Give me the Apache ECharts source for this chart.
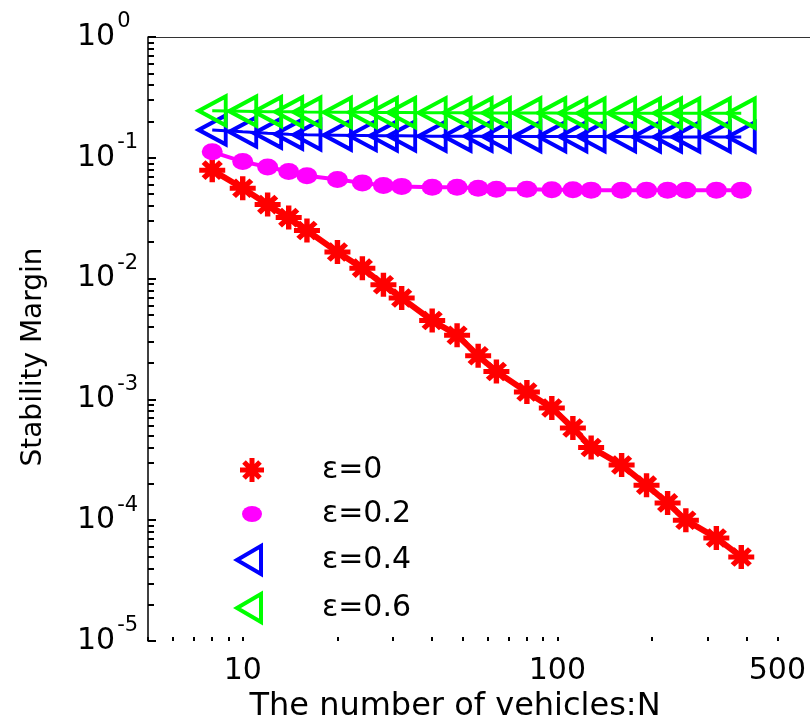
<!DOCTYPE html>
<html>
<head>
<meta charset="utf-8">
<script src="https://cdn.jsdelivr.net/npm/echarts@6/dist/echarts.min.js"></script>
<style>
  html, body { margin: 0; padding: 0; background: #fff; }
  #chart { width: 810px; height: 724px; }
</style>
</head>
<body>
<div id="chart"></div>
<script>
// number of vehicles
const N = [8, 10, 12, 14, 16, 20, 24, 28, 32, 40, 48, 56, 64, 80, 96, 112, 128, 160, 192, 224, 256, 320, 384];

// stability margin for each epsilon
const eps0 = [0.079, 0.056, 0.041, 0.032, 0.025, 0.0166, 0.0122, 0.0089, 0.0069, 0.0045, 0.0034, 0.0023,
    0.0017, 0.00115, 0.00085, 0.00058, 0.0004, 0.000286, 0.000195, 0.000139, 0.0001, 0.0000713, 0.0000496];
const eps02 = [0.112, 0.093, 0.084, 0.077, 0.071, 0.066, 0.062, 0.059, 0.058, 0.057, 0.057, 0.056,
    0.055, 0.055, 0.0545, 0.0545, 0.054, 0.054, 0.054, 0.054, 0.054, 0.054, 0.054];
const eps04 = [0.17, 0.164, 0.16, 0.157, 0.155, 0.154, 0.153, 0.152, 0.152, 0.151, 0.151, 0.151,
    0.15, 0.15, 0.15, 0.15, 0.15, 0.15, 0.149, 0.149, 0.149, 0.149, 0.149];
const eps06 = [0.245, 0.243, 0.241, 0.24, 0.239, 0.238, 0.238, 0.237, 0.237, 0.236, 0.236, 0.235,
    0.235, 0.235, 0.235, 0.234, 0.234, 0.234, 0.234, 0.234, 0.234, 0.234, 0.234];

const seriesNames = ['ε=0', 'ε=0.2', 'ε=0.4', 'ε=0.6'];

// axis ticks / labels
const xLabelValues = [10, 100, 500];
const xTickValues = [5, 6, 7, 8, 9, 10, 20, 30, 40, 50, 60, 70, 80, 90, 100, 200, 300, 400, 500];
const yMinorMultipliers = [2, 3, 4, 5, 6, 7, 8, 9];
const yDecades = [-5, -4, -3, -2, -1];

const xMin = 5, xMax = 635;
const yMin = 1e-5, yMax = 1;

const FONT = 'DejaVu Sans';

// asterisk with thick arms, like the matlab '*' marker
const starPath = 'path://M0,9.5H24V14.5H0Z M9.5,0H14.5V24H9.5Z M2.2,5.8L5.8,2.2L21.8,18.2L18.2,21.8Z M18.2,2.2L21.8,5.8L5.8,21.8L2.2,18.2Z';
const triPath = 'path://M0,15L26,0L26,30Z';
// legend icons padded into a 30x30 box so they keep their own size
const starIcon = 'path://M0,0M30,30M3,12.5H27V17.5H3Z M12.5,3H17.5V27H12.5Z M5.2,8.8L8.8,5.2L24.8,21.2L21.2,24.8Z M21.2,5.2L24.8,8.8L8.8,24.8L5.2,21.2Z';
const dotIcon = 'path://M0,0M30,30M5,15a10,8 0 1,0 20,0a10,8 0 1,0 -20,0Z';
const triIcon = 'path://M0,0M30,30M0,15L24,1L24,29Z';

const yMinorTicks = [];
yDecades.forEach((d) => {
    yMinorMultipliers.forEach((m) => yMinorTicks.push(Math.log10(m) + d));
});

const pairs = (ys) => N.map((n, i) => [n, ys[i]]);

const chart = echarts.init(document.getElementById('chart'), null, { renderer: 'canvas' });

const option = {
    animation: false,
    backgroundColor: '#ffffff',
    grid: { left: 148, top: 37, right: 0, bottom: 83, outerBoundsMode: 'none' },
    legend: {
        orient: 'vertical',
        left: 235,
        top: 455,
        padding: 0,
        itemWidth: 130,
        itemHeight: 30,
        itemGap: 14,
        selectedMode: false,
        textStyle: { fontFamily: FONT, fontSize: 30, color: '#000', lineHeight: 30 },
        data: [
            { name: seriesNames[0], icon: starIcon, itemStyle: { color: '#ff0000', borderWidth: 0 } },
            { name: seriesNames[1], icon: dotIcon, itemStyle: { color: '#ff00ff', borderWidth: 0 } },
            { name: seriesNames[2], icon: triIcon, itemStyle: { color: 'transparent', borderColor: '#0000ff', borderWidth: 4 } },
            { name: seriesNames[3], icon: triIcon, itemStyle: { color: 'transparent', borderColor: '#00ff00', borderWidth: 4 } },
        ],
    },
    xAxis: [
        {
            type: 'log',
            min: xMin,
            max: xMax,
            name: 'The number of vehicles:N',
            nameLocation: 'middle',
            nameGap: 50,
            nameTextStyle: { fontFamily: FONT, fontSize: 32, color: '#000', padding: [0, 48, 0, 0] },
            axisLine: { show: true, lineStyle: { color: '#333', width: 1 } },
            axisTick: { show: false },
            axisLabel: { show: false },
            splitLine: { show: false },
        },
        {
            type: 'value',
            min: Math.log10(xMin),
            max: Math.log10(xMax),
            position: 'bottom',
            axisLine: { show: false },
            axisTick: {
                show: true,
                inside: true,
                length: 4,
                customValues: xTickValues.map((v) => Math.log10(v)),
                lineStyle: { color: '#000', width: 2 },
            },
            axisLabel: {
                show: true,
                customValues: xLabelValues.map((v) => Math.log10(v)),
                formatter: (v) => String(Math.round(Math.pow(10, v))),
                fontFamily: FONT,
                fontSize: 30,
                lineHeight: 30,
                color: '#000',
                margin: 15,
            },
            splitLine: { show: false },
        },
    ],
    yAxis: [
        {
            type: 'log',
            min: yMin,
            max: yMax,
            name: 'Stability Margin',
            nameLocation: 'middle',
            nameGap: 100,
            nameRotate: 90,
            nameTextStyle: { fontFamily: FONT, fontSize: 28, color: '#000', padding: [0, 36, 0, 0] },
            axisLine: { show: true, lineStyle: { color: '#000', width: 1.5 } },
            axisTick: { show: true, inside: true, length: 8, lineStyle: { color: '#000', width: 2 } },
            axisLabel: {
                show: true,
                align: 'left',
                margin: 71,
                formatter: (v) => '{b|10}{s|' + Math.round(Math.log10(v)) + '}',
                rich: {
                    b: { fontFamily: FONT, fontSize: 30, lineHeight: 30, color: '#000' },
                    s: { fontFamily: FONT, fontSize: 21, lineHeight: 21, color: '#000', padding: [0, 0, 30, 2] },
                },
            },
            splitLine: { show: false },
        },
        {
            type: 'value',
            min: -5,
            max: 0,
            position: 'left',
            axisLine: { show: false },
            axisTick: {
                show: true,
                inside: true,
                length: 6,
                customValues: yMinorTicks,
                lineStyle: { color: '#000', width: 2 },
            },
            axisLabel: { show: false },
            splitLine: { show: false },
        },
    ],
    series: [
        {
            name: seriesNames[0],
            type: 'line',
            data: pairs(eps0),
            symbol: starPath,
            symbolSize: [26, 24],
            itemStyle: { color: '#ff0000' },
            lineStyle: { color: '#ff0000', width: 6 },
        },
        {
            name: seriesNames[1],
            type: 'line',
            data: pairs(eps02),
            symbol: 'circle',
            symbolSize: [21, 17],
            itemStyle: { color: '#ff00ff' },
            lineStyle: { color: '#ff00ff', width: 4 },
        },
        {
            name: seriesNames[2],
            type: 'line',
            data: pairs(eps04),
            symbol: triPath,
            symbolSize: [27, 29],
            itemStyle: { color: 'transparent', borderColor: '#0000ff', borderWidth: 4 },
            lineStyle: { color: '#0000ff', width: 3 },
        },
        {
            name: seriesNames[3],
            type: 'line',
            data: pairs(eps06),
            symbol: triPath,
            symbolSize: [27, 29],
            itemStyle: { color: 'transparent', borderColor: '#00ff00', borderWidth: 4 },
            lineStyle: { color: '#00ff00', width: 3 },
        },
    ],
};

chart.setOption(option);
</script>
</body>
</html>
